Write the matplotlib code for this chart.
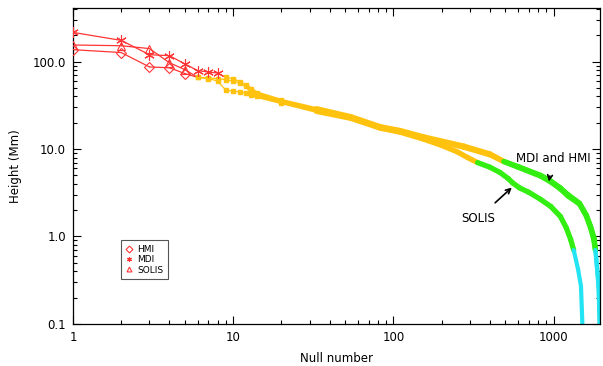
#!/usr/bin/env python

import matplotlib
matplotlib.use('Agg')
import matplotlib.pyplot as plt
from matplotlib.collections import LineCollection
from matplotlib.ticker import FixedLocator, LogLocator, NullFormatter

plt.rcParams['font.family'] = 'DejaVu Sans'
plt.rcParams['font.size'] = 8.5

RED = '#ff3535'
ORANGE = '#ffc20e'
GREEN = '#33ee11'
CYAN = '#22e4f2'

# null number (rank) vs height
hmi_n = [1, 2, 3, 4, 5, 6, 7, 8, 9, 10, 11, 12, 13, 14, 20, 33, 54, 83, 110,
         154, 275, 400, 488, 600, 830, 960, 1100, 1230, 1450, 1600, 1700,
         1780, 1820, 1905, 1935]
hmi_h = [137, 127, 87, 85, 73, 66, 65, 64, 62, 60, 57, 52, 46, 43, 35, 28,
         23, 17.6, 16, 13.5, 10.5, 8.6, 7.2, 6.2, 4.9, 4.2, 3.5, 2.9, 2.35,
         1.7, 1.25, 0.92, 0.7, 0.27, 0.1]

mdi_n = [1, 2, 3, 4, 5, 6, 7, 8, 9, 10, 11, 12, 13, 14, 20, 33, 54, 83, 110,
         154, 275, 400, 490, 600, 830, 960, 1100, 1230, 1450, 1600, 1700,
         1790, 1825, 1910, 1940]
mdi_h = [216, 175, 120, 117, 94, 79, 76, 74, 66, 64, 59, 54, 48, 44, 36, 29,
         23.5, 18, 16.3, 13.8, 10.8, 8.8, 7.2, 6.3, 5.0, 4.3, 3.6, 3.0, 2.4,
         1.75, 1.3, 0.95, 0.7, 0.27, 0.1]

solis_n = [1, 2, 3, 4, 5, 6, 7, 8, 9, 10, 11, 12, 13, 14, 20, 33, 54, 83,
           110, 154, 200, 250, 290, 335, 400, 462, 520, 555, 612, 700, 830,
           960, 1100, 1200, 1277, 1333, 1420, 1480, 1510]
solis_h = [155, 152, 141, 97, 81, 66, 64, 60, 47, 46, 45, 44, 42, 40, 34,
           27, 22.5, 17.3, 15.6, 13.0, 11.0, 9.3, 8.0, 7.0, 6.2, 5.4, 4.6,
           4.1, 3.6, 3.2, 2.65, 2.2, 1.7, 1.25, 0.92, 0.7, 0.42, 0.27, 0.1]

x_ticks = [1, 10, 100, 1000]
y_ticks = [0.1, 1.0, 10.0, 100.0]


def band_color(h):
    if h > 70:
        return RED
    if h > 7.25:
        return ORANGE
    if h > 0.72:
        return GREEN
    return CYAN


def draw_series(ax, n, h, marker, ms, label):
    segs, cols, widths = [], [], []
    for i in range(len(n) - 1):
        segs.append([(n[i], h[i]), (n[i + 1], h[i + 1])])
        cols.append(band_color(h[i]))
        if n[i] < 12:
            widths.append(0.9)
        elif n[i] < 30:
            widths.append(2.3)
        elif h[i] > 0.72:
            widths.append(3.8)
        else:
            widths.append(3.0)
    lc = LineCollection(segs, colors=cols, linewidths=widths)
    lc.set_capstyle('round')
    lc.set_joinstyle('round')
    ax.add_collection(lc)

    red_pts = [(a, b) for a, b in zip(n, h) if b > 70]
    ax.plot([p[0] for p in red_pts], [p[1] for p in red_pts], ls='none',
            marker=marker, ms=ms, mfc='none', mec=RED, mew=0.8, zorder=4)
    small = [(a, b) for a, b in zip(n, h) if b <= 70 and a < 30]
    ax.plot([p[0] for p in small], [p[1] for p in small], ls='none',
            marker='s', ms=2.2, color=ORANGE, zorder=3)
    ax.plot([], [], ls='none', marker=marker, ms=3.5, mfc='none',
            mec=RED, mew=0.8, label=label)


def make_plot():
    fig = plt.figure(figsize=(6.03, 3.66), dpi=100)
    ax = fig.add_axes([0.121, 0.115, 0.874, 0.863])
    ax.set_xscale('log')
    ax.set_yscale('log')

    draw_series(ax, solis_n, solis_h, '^', 5.5, 'SOLIS')
    draw_series(ax, mdi_n, mdi_h, (6, 2, 0), 7.5, 'MDI')
    draw_series(ax, hmi_n, hmi_h, 'D', 5, 'HMI')

    ax.set_xlim(1, 1945)
    ax.set_ylim(0.1, 410)

    ax.xaxis.set_major_locator(FixedLocator(x_ticks))
    ax.set_xticklabels([str(t) for t in x_ticks])
    ax.yaxis.set_major_locator(FixedLocator(y_ticks))
    ax.set_yticklabels(['%.1f' % t for t in y_ticks])
    for axis in (ax.xaxis, ax.yaxis):
        axis.set_minor_locator(LogLocator(base=10, subs=range(2, 10)))
        axis.set_minor_formatter(NullFormatter())
    ax.tick_params(which='both', direction='in', top=True, right=True,
                   width=0.8, labelsize=8.5, pad=5)
    ax.tick_params(which='major', length=6)
    ax.tick_params(which='minor', length=3)
    for s in ax.spines.values():
        s.set_linewidth(0.9)

    ax.set_xlabel('Null number', fontsize=8.5, labelpad=6)
    ax.set_ylabel('Height (Mm)', fontsize=8.5, labelpad=8)

    ax.annotate('MDI and HMI', xy=(933, 4.25), xytext=(990, 7.8),
                ha='center', va='center', fontsize=8.5,
                arrowprops=dict(arrowstyle='->', color='black', lw=1.2,
                                shrinkA=6, shrinkB=0))
    ax.annotate('SOLIS', xy=(548, 3.63), xytext=(336, 1.6),
                ha='center', va='center', fontsize=8.5,
                arrowprops=dict(arrowstyle='->', color='black', lw=1.2,
                                shrinkA=7, shrinkB=0))

    handles, labels = ax.get_legend_handles_labels()
    order = [labels.index(l) for l in ['HMI', 'MDI', 'SOLIS']]
    leg = ax.legend([handles[i] for i in order], [labels[i] for i in order],
                    loc='lower left', bbox_to_anchor=(0.091, 0.142),
                    borderaxespad=0, fancybox=False, framealpha=1,
                    edgecolor='#555555', fontsize=6.5, handlelength=0.8,
                    handletextpad=0.5, labelspacing=0.15, borderpad=0.5)
    leg.get_frame().set_linewidth(0.8)

    fig.savefig('out.png', dpi=100)


if __name__ == "__main__":
    make_plot()
